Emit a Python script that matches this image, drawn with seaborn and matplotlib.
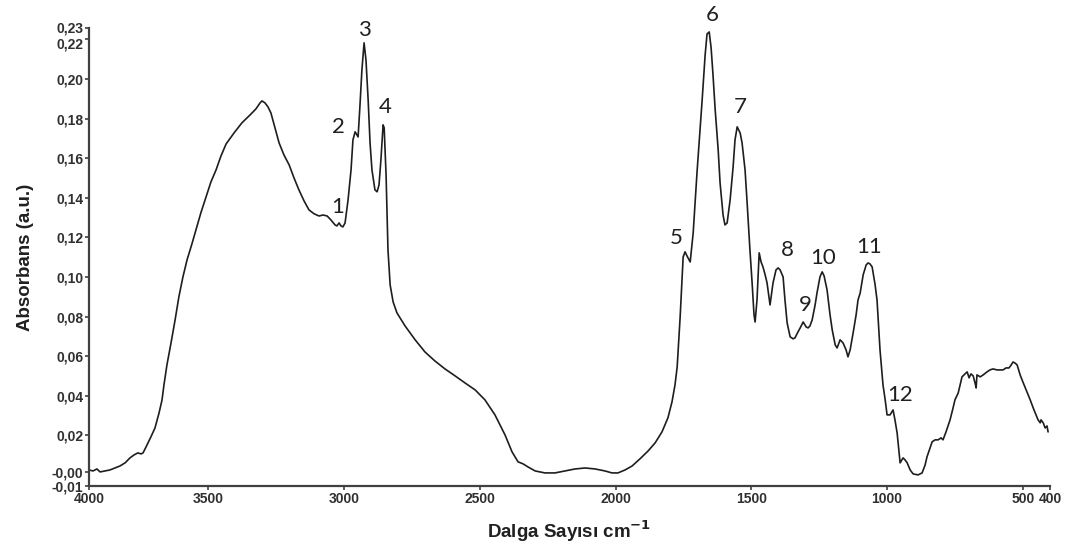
import numpy as np
import pandas as pd
import matplotlib
matplotlib.use("Agg")
import matplotlib.pyplot as plt
import matplotlib.transforms as mtransforms
import seaborn as sns

# ---- data ----
wavenumber = [3939, 3924, 3910, 3898, 3880, 3862, 3843, 3825, 3806, 3788, 3773, 3759, 3747, 3740,
              3729, 3711, 3696, 3681, 3670, 3663, 3652, 3637, 3622, 3608, 3593, 3578, 3560, 3545,
              3527, 3508, 3490, 3471, 3453, 3434, 3405, 3376, 3346, 3324, 3309, 3302, 3291, 3280,
              3269, 3254, 3239, 3221, 3202, 3184, 3166, 3147, 3129, 3110, 3092, 3077, 3062, 3048,
              3033, 3026, 3018, 3011, 3004, 2996, 2985, 2974, 2967, 2959, 2952, 2948, 2941, 2934,
              2926, 2919, 2911, 2904, 2897, 2886, 2878, 2871, 2864, 2856, 2852, 2845, 2838, 2830,
              2819, 2805, 2775, 2738, 2702, 2665, 2628, 2591, 2554, 2517, 2481, 2444, 2407, 2381,
              2359, 2341, 2322, 2296, 2260, 2223, 2186, 2149, 2112, 2075, 2039, 2013, 1991, 1965,
              1939, 1910, 1880, 1854, 1829, 1807, 1792, 1781, 1773, 1762, 1751, 1744, 1737, 1725,
              1714, 1700, 1681, 1670, 1663, 1655, 1648, 1641, 1633, 1622, 1615, 1604, 1597, 1589,
              1578, 1567, 1560, 1552, 1541, 1534, 1523, 1516, 1505, 1497, 1490, 1486, 1479, 1471,
              1464, 1457, 1449, 1442, 1431, 1420, 1409, 1401, 1394, 1383, 1376, 1368, 1357, 1346,
              1339, 1328, 1320, 1309, 1298, 1291, 1284, 1276, 1265, 1258, 1247, 1239, 1232, 1221,
              1210, 1202, 1191, 1184, 1173, 1162, 1151, 1144, 1136, 1125, 1114, 1107, 1099, 1088,
              1077, 1070, 1063, 1055, 1044, 1037, 1026, 1015, 1007, 1000, 989, 978, 971, 963,
              952, 941, 934, 926, 915, 904, 886, 871, 860, 853, 842, 834, 823, 812,
              801, 794, 783, 768, 757, 750, 738, 731, 724, 713, 705, 698, 691, 683,
              676, 672, 669, 657, 646, 632, 621, 610, 595, 584, 573, 562, 551, 543,
              536, 529, 521, 510, 503, 488, 473, 459, 444, 436, 433, 425, 418, 411, 407]

absorbance = [0.0026, 0.0021, 0.0031, 0.0016, 0.0021, 0.0026, 0.0036, 0.0046, 0.0062, 0.0087, 0.0102, 0.0112, 0.0107, 0.0112,
              0.0142, 0.0193, 0.0238, 0.0314, 0.0380, 0.0455, 0.0556, 0.0667, 0.0783, 0.0900, 0.1001, 0.1086, 0.1167, 0.1238,
              0.1324, 0.1404, 0.1480, 0.1541, 0.1611, 0.1672, 0.1727, 0.1778, 0.1818, 0.1849, 0.1879, 0.1889, 0.1879, 0.1859,
              0.1828, 0.1753, 0.1677, 0.1616, 0.1566, 0.1500, 0.1440, 0.1384, 0.1339, 0.1319, 0.1308, 0.1313, 0.1308, 0.1288,
              0.1263, 0.1258, 0.1273, 0.1258, 0.1253, 0.1273, 0.1389, 0.1541, 0.1692, 0.1733, 0.1717, 0.1707, 0.1869, 0.2045,
              0.2182, 0.2096, 0.1894, 0.1677, 0.1541, 0.1440, 0.1430, 0.1465, 0.1591, 0.1768, 0.1753, 0.1515, 0.1137, 0.0960,
              0.0874, 0.0819, 0.0753, 0.0683, 0.0622, 0.0576, 0.0536, 0.0501, 0.0465, 0.0430, 0.0380, 0.0304, 0.0203, 0.0117,
              0.0067, 0.0057, 0.0041, 0.0021, 0.0011, 0.0011, 0.0021, 0.0031, 0.0036, 0.0031, 0.0021, 0.0011, 0.0011, 0.0026,
              0.0046, 0.0082, 0.0122, 0.0163, 0.0218, 0.0289, 0.0370, 0.0455, 0.0546, 0.0799, 0.1101, 0.1127, 0.1107, 0.1076,
              0.1223, 0.1526, 0.1894, 0.2121, 0.2227, 0.2237, 0.2157, 0.2020, 0.1844, 0.1642, 0.1475, 0.1313, 0.1263, 0.1273,
              0.1389, 0.1556, 0.1692, 0.1758, 0.1727, 0.1677, 0.1541, 0.1389, 0.1137, 0.0970, 0.0809, 0.0773, 0.0884, 0.1122,
              0.1076, 0.1051, 0.1011, 0.0970, 0.0859, 0.0970, 0.1036, 0.1046, 0.1036, 0.1001, 0.0884, 0.0768, 0.0698, 0.0688,
              0.0693, 0.0723, 0.0743, 0.0773, 0.0748, 0.0743, 0.0753, 0.0783, 0.0859, 0.0920, 0.1001, 0.1026, 0.1006, 0.0935,
              0.0809, 0.0733, 0.0657, 0.0642, 0.0683, 0.0667, 0.0632, 0.0597, 0.0632, 0.0718, 0.0809, 0.0884, 0.0920, 0.1011,
              0.1061, 0.1071, 0.1066, 0.1051, 0.0960, 0.0884, 0.0632, 0.0455, 0.0380, 0.0304, 0.0304, 0.0329, 0.0279, 0.0213,
              0.0062, 0.0087, 0.0077, 0.0062, 0.0026, 0.0006, 0.0001, 0.0011, 0.0051, 0.0092, 0.0137, 0.0168, 0.0178, 0.0178,
              0.0188, 0.0178, 0.0218, 0.0279, 0.0339, 0.0380, 0.0415, 0.0455, 0.0496, 0.0511, 0.0521, 0.0491, 0.0511, 0.0501,
              0.0465, 0.0440, 0.0506, 0.0496, 0.0506, 0.0521, 0.0531, 0.0536, 0.0531, 0.0531, 0.0531, 0.0541, 0.0541, 0.0556,
              0.0571, 0.0566, 0.0556, 0.0506, 0.0481, 0.0430, 0.0380, 0.0329, 0.0279, 0.0264, 0.0279, 0.0264, 0.0238, 0.0248, 0.0218]

peak_labels = ["1", "2", "3", "4", "5", "6", "7", "8", "9", "10", "11", "12"]
peak_wavenumbers = [3018, 2959, 2926, 2856, 1744, 1655, 1552, 1401, 1309, 1239, 1070, 978]

x_tick_values = [3939, 3500, 3000, 2500, 2000, 1500, 1000, 500, 400]
x_tick_labels = ["4000", "3500", "3000", "2500", "2000", "1500", "1000", "500", "400"]
y_tick_values = [-0.0055, 0.0016, 0.02, 0.04, 0.06, 0.08, 0.10, 0.12, 0.14, 0.16, 0.18, 0.20, 0.22, 0.2257]
y_tick_labels = ["-0,01", "-0,00", "0,02", "0,04", "0,06", "0,08", "0,10", "0,12", "0,14",
                 "0,16", "0,18", "0,20", "0,22", "0,23"]

x_label = "Dalga Sayısı cm$^{\\mathbf{-1}}$"
y_label = "Absorbans (a.u.)"

# ---- layout (label offsets in pixels relative to each peak) ----
label_offsets = [(-1, 16), (-17, 5), (0, 13), (2, 18), (-9, 14), (3, 17),
                 (3, 20), (9, 18), (2, 17), (1, 14), (1, 16), (7, 15)]

sns.set_style("ticks")
plt.rcParams["font.family"] = ["Liberation Sans", "DejaVu Sans"]
plt.rcParams["mathtext.default"] = "bf"

df = pd.DataFrame({"Wavenumber": wavenumber, "Absorbance": absorbance})

fig = plt.figure(figsize=(10.74, 5.48), dpi=100)
ax = fig.add_axes([89 / 1074, 1 - 486 / 548, (1050 - 89) / 1074, (486 - 28) / 548])

sns.lineplot(data=df, x="Wavenumber", y="Absorbance", ax=ax, color="#1e1e1e",
             linewidth=1.2, sort=False, estimator=None)

ax.set_xlim(3939, 400)
ax.set_ylim(-0.0055, 0.2257)

ax.set_xticks(x_tick_values)
ax.set_xticklabels(x_tick_labels)
ax.set_yticks(y_tick_values)
ax.set_yticklabels(y_tick_labels)

ax.tick_params(axis="both", direction="out", length=3, width=1.2, color="#404040", pad=1)

for lab in ax.get_xticklabels() + ax.get_yticklabels():
    lab.set_fontweight("bold")
    lab.set_fontsize(10)
    lab.set_color("#303030")

# nudge the "0,22" label slightly down so it does not collide with "0,23"
yticks = ax.yaxis.get_major_ticks()
shift_down = mtransforms.ScaledTranslation(0, -4 / 100, fig.dpi_scale_trans)
yticks[-2].label1.set_transform(yticks[-2].label1.get_transform() + shift_down)
shift_up = mtransforms.ScaledTranslation(0, 1 / 100, fig.dpi_scale_trans)
yticks[-1].label1.set_transform(yticks[-1].label1.get_transform() + shift_up)

for side in ["top", "right"]:
    ax.spines[side].set_visible(False)
for side in ["left", "bottom"]:
    ax.spines[side].set_linewidth(1.6)
    ax.spines[side].set_color("#404040")

ax.set_xlabel(x_label, fontsize=13.5, fontweight="bold", color="#202020", labelpad=9)
ax.set_ylabel(y_label, fontsize=13.5, fontweight="bold", color="#202020", labelpad=13)

wn_arr = np.array(wavenumber)[::-1]
ab_arr = np.array(absorbance)[::-1]
for lab, wn, off in zip(peak_labels, peak_wavenumbers, label_offsets):
    y = np.interp(wn, wn_arr, ab_arr)
    ax.annotate(lab, xy=(wn, y), xytext=off, textcoords="offset pixels",
                ha="center", va="center", fontsize=16, family=["Lato", "DejaVu Sans"],
                color="#202020")

fig.savefig("out.png", dpi=100)
